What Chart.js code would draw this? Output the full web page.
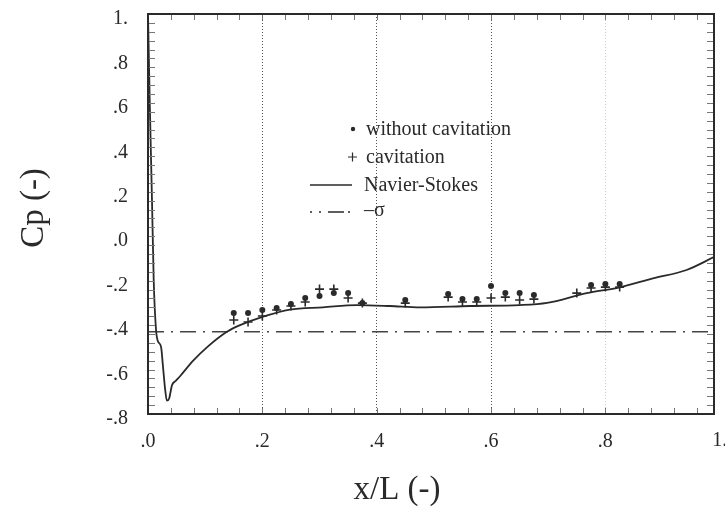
<!DOCTYPE html>
<html>
<head>
<meta charset="utf-8">
<script src="https://cdn.jsdelivr.net/npm/chart.js@4/dist/chart.umd.min.js"></script>
<style>
  html, body { margin: 0; padding: 0; background: #fff; }
  #wrap { width: 725px; height: 511px; }
</style>
</head>
<body>
<div id="wrap"><canvas id="cpChart" width="725" height="511"></canvas></div>
<script>
// measured points, without cavitation
const xWithout  = [0.15, 0.175, 0.2, 0.225, 0.25, 0.275, 0.3, 0.325, 0.35, 0.375, 0.45, 0.525, 0.55, 0.575, 0.6, 0.625, 0.65, 0.675, 0.775, 0.8, 0.825];
const cpWithout = [-0.346, -0.346, -0.332, -0.323, -0.305, -0.278, -0.269, -0.256, -0.256, -0.301, -0.287, -0.26, -0.283, -0.283, -0.224, -0.256, -0.256, -0.265, -0.22, -0.215, -0.215];

// measured points, cavitation
const xCavitation  = [0.15, 0.175, 0.2, 0.225, 0.25, 0.275, 0.3, 0.325, 0.35, 0.375, 0.45, 0.525, 0.55, 0.575, 0.6, 0.625, 0.65, 0.675, 0.75, 0.775, 0.8, 0.825];
const cpCavitation = [-0.377, -0.386, -0.359, -0.332, -0.314, -0.296, -0.238, -0.238, -0.278, -0.301, -0.301, -0.274, -0.296, -0.296, -0.278, -0.274, -0.287, -0.283, -0.256, -0.233, -0.229, -0.229];

// Navier-Stokes computation
const nsX  = [0.0, 0.003, 0.007, 0.010, 0.014, 0.017, 0.023, 0.026, 0.030, 0.033, 0.037, 0.042, 0.049, 0.056, 0.079, 0.103, 0.138, 0.161, 0.199, 0.248, 0.306, 0.365, 0.423, 0.476, 0.563, 0.65, 0.698, 0.767, 0.825, 0.883, 0.942, 0.99];
const nsCp = [1.0, 0.61, 0.16, -0.2, -0.42, -0.47, -0.5, -0.58, -0.69, -0.74, -0.73, -0.67, -0.65, -0.63, -0.56, -0.5, -0.43, -0.4, -0.364, -0.33, -0.32, -0.31, -0.314, -0.32, -0.314, -0.31, -0.3, -0.256, -0.23, -0.19, -0.152, -0.094];

// cavitation number line
const sigma = -0.43;
const sigmaX = [0.0, 0.99];

const xTicks = [0, 0.2, 0.4, 0.6, 0.8];
const yTicks = [-0.8, -0.6, -0.4, -0.2, 0.0, 0.2, 0.4, 0.6, 0.8, 1.0];

const SERIF = '"Liberation Serif", "DejaVu Serif", serif';
const INK = '#2a2a2a';

function fmt(v) {
    v = Math.round(v * 10) / 10;
    if (v === 1) return '1.';
    if (v === 0) return '.0';
    return (v < 0 ? '-' : '') + Math.abs(v).toFixed(1).slice(1);
}

function pts(xs, ys) {
    return xs.map((x, i) => ({ x: x, y: ys[i] }));
}

// frame, inner ticks, legend and axis titles
const decorPlugin = {
    id: 'decor',
    afterDraw(chart) {
        const ctx = chart.ctx;
        const a = chart.chartArea;
        const xs = chart.scales.x;
        const ys = chart.scales.y;
        ctx.save();

        // inner minor ticks
        ctx.strokeStyle = '#777';
        ctx.lineWidth = 1;
        ctx.beginPath();
        for (let v = 0.04; v < 0.99; v += 0.04) {
            const px = Math.round(xs.getPixelForValue(v)) + 0.5;
            ctx.moveTo(px, a.bottom); ctx.lineTo(px, a.bottom - 6);
            ctx.moveTo(px, a.top); ctx.lineTo(px, a.top + 6);
        }
        for (let v = -0.76; v < 1.0; v += 0.04) {
            const py = Math.round(ys.getPixelForValue(v)) + 0.5;
            ctx.moveTo(a.left, py); ctx.lineTo(a.left + 7, py);
            ctx.moveTo(a.right, py); ctx.lineTo(a.right - 7, py);
        }
        ctx.stroke();

        // frame
        ctx.strokeStyle = INK;
        ctx.lineWidth = 2;
        ctx.strokeRect(a.left, a.top, a.right - a.left, a.bottom - a.top);

        // last x label sits past the frame, half cut by the page edge
        ctx.fillStyle = INK;
        ctx.font = '20px ' + SERIF;
        ctx.textAlign = 'center';
        ctx.textBaseline = 'middle';
        ctx.fillText(fmt(1.0), xs.getPixelForValue(1.0), 441);

        // legend
        ctx.strokeStyle = INK;
        ctx.font = '20px ' + SERIF;
        ctx.textAlign = 'left';

        ctx.beginPath();
        ctx.arc(353, 129, 2.2, 0, Math.PI * 2);
        ctx.fill();
        ctx.fillText('without cavitation', 366, 130);

        ctx.lineWidth = 1.2;
        ctx.beginPath();
        ctx.moveTo(348, 157); ctx.lineTo(357, 157);
        ctx.moveTo(352.5, 152.5); ctx.lineTo(352.5, 161.5);
        ctx.stroke();
        ctx.fillText('cavitation', 366, 158);

        ctx.lineWidth = 1.6;
        ctx.beginPath();
        ctx.moveTo(310, 185); ctx.lineTo(352, 185);
        ctx.stroke();
        ctx.fillText('Navier-Stokes', 364, 186);

        ctx.setLineDash([2, 7, 2, 7, 16, 4]);
        ctx.beginPath();
        ctx.moveTo(310, 212); ctx.lineTo(352, 212);
        ctx.stroke();
        ctx.setLineDash([]);
        ctx.fillText('\u2013\u03c3', 364, 211);

        // axis titles
        ctx.font = '33px ' + SERIF;
        ctx.textAlign = 'center';
        ctx.fillText('x/L (-)', 397, 490);
        ctx.translate(34, 208);
        ctx.rotate(-Math.PI / 2);
        ctx.fillText('Cp (-)', 0, 0);

        ctx.restore();
    }
};

new Chart(document.getElementById('cpChart'), {
    type: 'scatter',
    data: {
        datasets: [
            {
                label: 'Navier-Stokes',
                type: 'line',
                data: pts(nsX, nsCp),
                borderColor: INK,
                borderWidth: 1.8,
                pointRadius: 0,
                cubicInterpolationMode: 'monotone',
                fill: false
            },
            {
                label: '-σ',
                type: 'line',
                data: pts(sigmaX, [sigma, sigma]),
                borderColor: '#444',
                borderWidth: 1.4,
                borderDash: [16, 7, 2, 7],
                pointRadius: 0,
                fill: false
            },
            {
                label: 'without cavitation',
                data: pts(xWithout, cpWithout),
                pointStyle: 'circle',
                pointRadius: 3,
                backgroundColor: INK,
                borderColor: INK,
                borderWidth: 0
            },
            {
                label: 'cavitation',
                data: pts(xCavitation, cpCavitation),
                pointStyle: 'cross',
                pointRadius: 4.5,
                borderColor: INK,
                borderWidth: 1.6
            }
        ]
    },
    options: {
        responsive: false,
        animation: false,
        events: [],
        layout: { padding: { left: 0, top: 14, right: 11, bottom: 0 } },
        plugins: {
            legend: { display: false },
            tooltip: { enabled: false }
        },
        scales: {
            x: {
                type: 'linear',
                min: 0,
                max: 0.99,
                afterBuildTicks(scale) {
                    scale.ticks = xTicks.map(v => ({ value: v }));
                },
                afterFit(scale) {
                    scale.height = 97;
                    scale.paddingLeft = 0;
                    scale.paddingRight = 0;
                },
                border: { display: false, dash: [1, 2] },
                grid: {
                    drawTicks: false,
                    lineWidth: 1,
                    color(c) {
                        const v = Math.round(c.tick.value * 10) / 10;
                        if (v === 0.2 || v === 0.4 || v === 0.6) return '#555';
                        if (v === 0.8) return '#ccc';
                        return 'rgba(0,0,0,0)';
                    }
                },
                ticks: {
                    autoSkip: false,
                    maxRotation: 0,
                    padding: 16,
                    color: INK,
                    font: { family: SERIF, size: 20 },
                    callback: v => fmt(v)
                }
            },
            y: {
                type: 'linear',
                min: -0.8,
                max: 1.0,
                afterBuildTicks(scale) {
                    scale.ticks = yTicks.map(v => ({ value: v }));
                },
                afterFit(scale) {
                    scale.width = 148;
                    scale.paddingTop = 0;
                    scale.paddingBottom = 0;
                },
                border: { display: false },
                grid: { display: false, drawTicks: false },
                ticks: {
                    padding: 20,
                    labelOffset: 5,
                    color: INK,
                    font: { family: SERIF, size: 20 },
                    callback: v => fmt(v)
                }
            }
        }
    },
    plugins: [decorPlugin]
});
</script>
</body>
</html>
